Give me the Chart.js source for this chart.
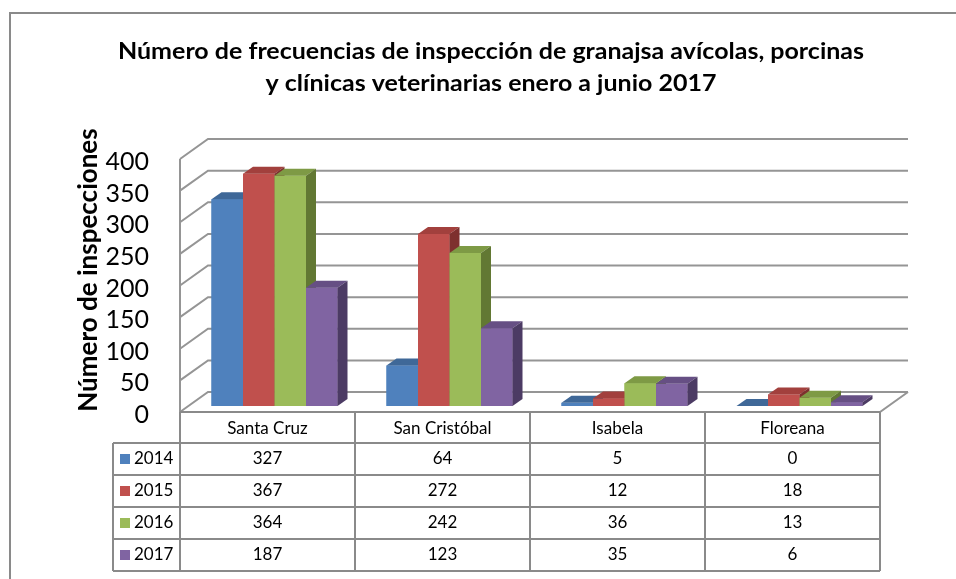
<html lang="es">
<head>
  <meta charset="UTF-8">
  <title>Inspecciones</title>
  <script src="https://cdn.jsdelivr.net/npm/chart.js"></script>
  <style>
    body { margin: 0; background: #fff; }
    #box { width: 956px; height: 579px; }
  </style>
</head>
<body>
  <div id="box"><canvas id="viz" width="956" height="579"></canvas></div>
  <script>
    const categories = ['Santa Cruz', 'San Cristóbal', 'Isabela', 'Floreana']
    const years = ['2014', '2015', '2016', '2017']
    const values2014 = [327, 64, 5, 0]
    const values2015 = [367, 272, 12, 18]
    const values2016 = [364, 242, 36, 13]
    const values2017 = [187, 123, 35, 6]
    const yMin = 0
    const yMax = 400
    const yStep = 50

    const titleLines = ['Número de frecuencias de inspección de granajsa avícolas, porcinas',
      'y clínicas veterinarias enero a junio 2017']
    const yTitle = 'Número de inspecciones'

    const colors = ['#4F81BD', '#C0504D', '#9BBB59', '#8064A2']
    const tops = ['#3F6898', '#A2403D', '#7E9A45', '#664F84']
    const sides = ['#2F4E74', '#7E302E', '#627833', '#4C3B64']

    const series = [values2014, values2015, values2016, values2017]
    const FONT = 'Lato, "Open Sans", sans-serif'

    // depth offsets: front of floor -> bar plane -> back wall
    const front = { dx: -7, dy: 6 }
    const back = { dx: 21, dy: -14 }
    const barDepth = { dx: 10, dy: -7 }

    const walls = {
      id: 'walls',
      beforeDatasetsDraw(chart) {
        const { ctx, chartArea: a } = chart
        const y = chart.scales.y
        ctx.save()
        ctx.strokeStyle = '#959595'
        ctx.lineWidth = 2
        for (let v = yMin; v <= yMax; v += yStep) {
          const p = y.getPixelForValue(v)
          ctx.beginPath()
          ctx.moveTo(a.left + front.dx, p + front.dy)
          ctx.lineTo(a.left + back.dx, p + back.dy)
          ctx.lineTo(a.right + back.dx, p + back.dy)
          ctx.stroke()
        }
        const p0 = y.getPixelForValue(0)
        const pTop = y.getPixelForValue(yMax)
        ctx.beginPath()
        ctx.moveTo(a.left + front.dx, pTop + front.dy)
        ctx.lineTo(a.left + front.dx, p0 + front.dy)
        ctx.lineTo(a.right + front.dx, p0 + front.dy)
        ctx.lineTo(a.right + back.dx, p0 + back.dy)
        ctx.stroke()
        ctx.restore()
      }
    }

    const bars3d = {
      id: 'bars3d',
      afterDatasetsDraw(chart) {
        const { ctx } = chart
        ctx.save()
        for (let i = 0; i < categories.length; i++) {
          for (let d = 0; d < series.length; d++) {
            const bar = chart.getDatasetMeta(d).data[i]
            const { x, y, base, width } = bar.getProps(['x', 'y', 'base', 'width'], true)
            const l = x - width / 2, r = x + width / 2
            ctx.fillStyle = colors[d]
            ctx.fillRect(l, y, width, base - y)
            ctx.fillStyle = tops[d]
            ctx.beginPath()
            ctx.moveTo(l, y); ctx.lineTo(r, y)
            ctx.lineTo(r + barDepth.dx, y + barDepth.dy); ctx.lineTo(l + barDepth.dx, y + barDepth.dy)
            ctx.closePath(); ctx.fill()
            ctx.fillStyle = sides[d]
            ctx.beginPath()
            ctx.moveTo(r, y); ctx.lineTo(r + barDepth.dx, y + barDepth.dy)
            ctx.lineTo(r + barDepth.dx, base + barDepth.dy); ctx.lineTo(r, base)
            ctx.closePath(); ctx.fill()
          }
        }
        ctx.restore()
      }
    }

    // draw text stretched horizontally to a given width (Calibri-like look)
    function fitText(ctx, text, cx, cy, width) {
      const w = ctx.measureText(text).width
      ctx.save()
      ctx.translate(cx, cy)
      ctx.scale(width / w, 1)
      ctx.fillText(text, 0, 0)
      ctx.restore()
    }

    const extras = {
      id: 'extras',
      afterDraw(chart) {
        const { ctx, chartArea: a } = chart
        const y = chart.scales.y
        ctx.save()

        // frame
        ctx.strokeStyle = '#8a8a8a'
        ctx.lineWidth = 2
        ctx.beginPath()
        ctx.moveTo(10, 579); ctx.lineTo(10, 13); ctx.lineTo(956, 13)
        ctx.stroke()

        // titles
        ctx.fillStyle = '#000'
        ctx.textAlign = 'center'
        ctx.textBaseline = 'middle'
        ctx.font = 'bold 23px ' + FONT
        const w1 = 746
        const w2 = w1 * ctx.measureText(titleLines[1]).width / ctx.measureText(titleLines[0]).width
        fitText(ctx, titleLines[0], 491, 52, w1)
        fitText(ctx, titleLines[1], 491, 84, w2)

        ctx.save()
        ctx.translate(89, 270)
        ctx.rotate(-Math.PI / 2)
        ctx.font = 'bold 26px ' + FONT
        ctx.fillText(yTitle, 0, 0)
        ctx.restore()

        // data table
        const colW = (a.right - a.left) / categories.length
        const x0 = a.left + front.dx
        const top = y.getPixelForValue(0) + front.dy
        const headH = 31, rowH = 32
        const legL = 113
        ctx.strokeStyle = '#8a8a8a'
        ctx.lineWidth = 2
        ctx.beginPath()
        for (let i = 0; i <= categories.length; i++) {
          ctx.moveTo(x0 + i * colW, top)
          ctx.lineTo(x0 + i * colW, top + headH + rowH * years.length)
        }
        ctx.moveTo(x0, top); ctx.lineTo(x0 + colW * categories.length, top)
        for (let r = 0; r <= years.length; r++) {
          const yy = top + headH + r * rowH
          ctx.moveTo(legL, yy); ctx.lineTo(x0 + colW * categories.length, yy)
        }
        ctx.moveTo(legL, top + headH); ctx.lineTo(legL, top + headH + rowH * years.length)
        ctx.stroke()

        ctx.font = '17px ' + FONT
        ctx.fillStyle = '#000'
        ctx.textAlign = 'center'
        categories.forEach((c, i) => {
          ctx.fillText(c, x0 + (i + 0.5) * colW, top + headH / 2 + 1)
        })
        years.forEach((yr, r) => {
          const cy = top + headH + (r + 0.5) * rowH
          ctx.fillStyle = colors[r]
          ctx.fillRect(120, cy - 5, 10, 10)
          ctx.fillStyle = '#000'
          ctx.textAlign = 'left'
          ctx.fillText(yr, 134, cy)
          ctx.textAlign = 'center'
          series[r].forEach((v, i) => {
            ctx.fillText(String(v), x0 + (i + 0.5) * colW, cy)
          })
        })
        ctx.restore()
      }
    }

    new Chart(document.getElementById('viz'), {
      type: 'bar',
      data: {
        labels: categories,
        datasets: years.map((yr, d) => ({
          label: yr,
          data: series[d],
          backgroundColor: colors[d],
          borderWidth: 0,
          categoryPercentage: 0.72,
          barPercentage: 1.0
        }))
      },
      options: {
        responsive: false,
        animation: false,
        layout: { padding: { left: 10, right: 69, top: 153, bottom: 173 } },
        plugins: {
          legend: { display: false },
          title: { display: false },
          tooltip: { enabled: false }
        },
        scales: {
          x: { display: false },
          y: {
            min: yMin,
            max: yMax,
            grid: { display: false },
            border: { display: false },
            ticks: {
              stepSize: yStep,
              autoSkip: false,
              padding: 30,
              labelOffset: 9,
              color: '#000',
              font: { family: FONT, size: 25 }
            },
            afterFit(scale) { scale.width = 177 }
          }
        }
      },
      plugins: [walls, bars3d, extras]
    })
  </script>
</body>
</html>
